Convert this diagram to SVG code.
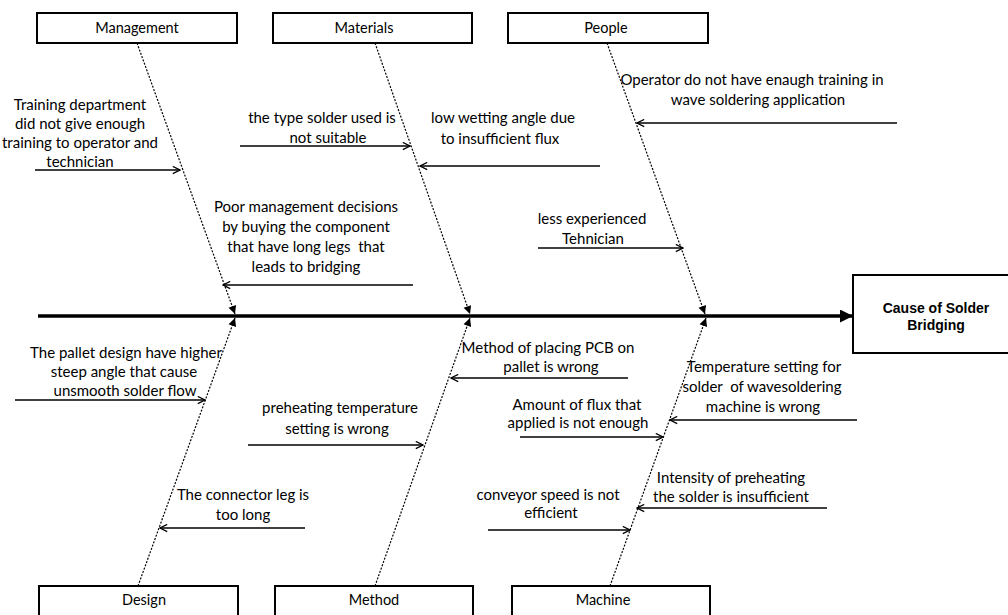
<svg xmlns="http://www.w3.org/2000/svg" width="1008" height="615" viewBox="0 0 1008 615">
  <style>
    .box { fill: #fff; stroke: #000; stroke-width: 2; }
    .lbl { font-family: Lato, "Liberation Sans", sans-serif; font-size: 15px; fill: #000; text-anchor: middle; white-space: pre; }
    .cat { font-family: Lato, "Liberation Sans", sans-serif; font-size: 14.5px; fill: #000; text-anchor: middle; }
    .head { font-family: "Liberation Sans", Arial, sans-serif; font-size: 14px; font-weight: bold; fill: #000; text-anchor: middle; }
    .bone { fill: none; stroke: #000; stroke-width: 1.2; stroke-dasharray: 2 1.5; marker-end: url(#solid); }
    .cause { fill: none; stroke: #000; stroke-width: 1.3; marker-end: url(#open); }
    .spine { fill: none; stroke: #000; stroke-width: 3.5; marker-end: url(#big); }
  </style>
  <defs>
    <marker id="solid" viewBox="0 0 10 10" refX="10" refY="5" markerWidth="9" markerHeight="8" markerUnits="userSpaceOnUse" orient="auto">
      <path d="M0,0 L10,5 L0,10 z" fill="#000"/>
    </marker>
    <marker id="open" viewBox="0 0 10 10" refX="9" refY="5" markerWidth="9" markerHeight="9" markerUnits="userSpaceOnUse" orient="auto">
      <path d="M1,1 L9,5 L1,9" fill="none" stroke="#000" stroke-width="1.4"/>
    </marker>
    <marker id="big" viewBox="0 0 10 10" refX="10" refY="5" markerWidth="15" markerHeight="13" markerUnits="userSpaceOnUse" orient="auto">
      <path d="M0,0 L10,5 L0,10 z" fill="#000"/>
    </marker>
  </defs>

  <rect width="1008" height="615" fill="#fff"/>

  <!-- category boxes -->
  <g id="management"><rect class="box" x="37" y="13" width="200" height="30"/><text class="cat" x="137" y="33">Management</text></g>
  <g id="materials"><rect class="box" x="273" y="13" width="199" height="30"/><text class="cat" x="364" y="33">Materials</text></g>
  <g id="people"><rect class="box" x="508" y="13" width="200" height="30"/><text class="cat" x="606" y="33">People</text></g>
  <g id="design"><rect class="box" x="39" y="586" width="199" height="40"/><text class="cat" x="144" y="605">Design</text></g>
  <g id="method"><rect class="box" x="275" y="586" width="198" height="40"/><text class="cat" x="374" y="605">Method</text></g>
  <g id="machine"><rect class="box" x="512" y="586" width="198" height="40"/><text class="cat" x="603" y="605">Machine</text></g>

  <!-- effect -->
  <g id="effect">
    <rect class="box" x="853" y="275" width="160" height="78"/>
    <text class="head" x="936" y="313">Cause of Solder</text>
    <text class="head" x="936" y="330">Bridging</text>
  </g>

  <!-- causes -->
  <g id="cause-training">
    <text class="lbl" x="80" y="110">Training department</text>
    <text class="lbl" x="80" y="129">did not give enough</text>
    <text class="lbl" x="80" y="148">training to operator and</text>
    <text class="lbl" x="80" y="167">technician</text>
  </g>
  <g id="cause-solder-type">
    <text class="lbl" x="322" y="123">the type solder used is</text>
    <text class="lbl" x="328" y="143">not suitable</text>
  </g>
  <g id="cause-wetting">
    <text class="lbl" x="503" y="123">low wetting angle due</text>
    <text class="lbl" x="500" y="144">to insufficient flux</text>
  </g>
  <g id="cause-operator">
    <text class="lbl" x="752" y="85">Operator do not have enaugh training in</text>
    <text class="lbl" x="758" y="105">wave soldering application</text>
  </g>
  <g id="cause-decisions">
    <text class="lbl" x="306" y="212">Poor management decisions</text>
    <text class="lbl" x="306" y="232">by buying the component</text>
    <text class="lbl" x="306" y="252">that have long legs  that</text>
    <text class="lbl" x="306" y="272">leads to bridging</text>
  </g>
  <g id="cause-technician">
    <text class="lbl" x="592" y="224">less experienced</text>
    <text class="lbl" x="593" y="244">Tehnician</text>
  </g>
  <g id="cause-pallet-design">
    <text class="lbl" x="126" y="358">The pallet design have higher</text>
    <text class="lbl" x="124" y="377">steep angle that cause</text>
    <text class="lbl" x="125" y="396">unsmooth solder flow</text>
  </g>
  <g id="cause-preheat-setting">
    <text class="lbl" x="340" y="413">preheating temperature</text>
    <text class="lbl" x="337" y="434">setting is wrong</text>
  </g>
  <g id="cause-placing">
    <text class="lbl" x="548" y="353">Method of placing PCB on</text>
    <text class="lbl" x="551" y="372">pallet is wrong</text>
  </g>
  <g id="cause-flux">
    <text class="lbl" x="577" y="410">Amount of flux that</text>
    <text class="lbl" x="578" y="428">applied is not enough</text>
  </g>
  <g id="cause-temperature">
    <text class="lbl" x="764" y="372">Temperature setting for</text>
    <text class="lbl" x="762" y="392">solder  of wavesoldering</text>
    <text class="lbl" x="763" y="412">machine is wrong</text>
  </g>
  <g id="cause-intensity">
    <text class="lbl" x="731" y="483">Intensity of preheating</text>
    <text class="lbl" x="731" y="502">the solder is insufficient</text>
  </g>
  <g id="cause-conveyor">
    <text class="lbl" x="548" y="500">conveyor speed is not</text>
    <text class="lbl" x="551" y="518">efficient</text>
  </g>
  <g id="cause-connector">
    <text class="lbl" x="243" y="500">The connector leg is</text>
    <text class="lbl" x="243" y="520">too long</text>
  </g>

  <!-- connectors -->
  <g id="connectors">
    <path class="spine" d="M38,316 L853,316"/>
    <path class="bone" d="M137,43 L235,314"/>
    <path class="bone" d="M375,43 L470,314"/>
    <path class="bone" d="M607,43 L705,314"/>
    <path class="bone" d="M138,586 L235,318"/>
    <path class="bone" d="M375,586 L470,318"/>
    <path class="bone" d="M610,586 L706,318"/>

    <path class="cause" d="M35,170 L180,170"/>
    <path class="cause" d="M240,146 L410,146"/>
    <path class="cause" d="M600,166 L420,166"/>
    <path class="cause" d="M897,123 L637,123"/>
    <path class="cause" d="M413,285 L223,285"/>
    <path class="cause" d="M538,248 L683,248"/>
    <path class="cause" d="M15,400 L205,400"/>
    <path class="cause" d="M248,445 L423,445"/>
    <path class="cause" d="M628,378 L451,378"/>
    <path class="cause" d="M520,437 L663,437"/>
    <path class="cause" d="M857,420 L670,420"/>
    <path class="cause" d="M827,508 L637,508"/>
    <path class="cause" d="M488,530 L630,530"/>
    <path class="cause" d="M305,528 L160,528"/>
  </g>
</svg>
